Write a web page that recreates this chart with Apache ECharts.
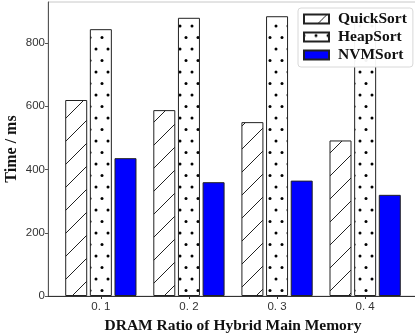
<!DOCTYPE html>
<html>
<head>
<meta charset="utf-8">
<style>
  html, body { margin: 0; padding: 0; background: #fff; }
  #chart { width: 415px; height: 336px; }
</style>
<script src="https://cdn.jsdelivr.net/npm/echarts@6/dist/echarts.min.js"></script>
</head>
<body>
<div id="chart"></div>
<script>
// Sorting time per DRAM ratio (ms)
const categories = ['0. 1', '0. 2', '0. 3', '0. 4'];
const seriesNames = ['QuickSort', 'HeapSort', 'NVMSort'];
const quickSort = [620, 588, 550, 492];
const heapSort = [844, 880, 885, 870];
const nvmSort = [436, 360, 365, 320];
const yTicks = [0, 200, 400, 600, 800];

// Diagonal hatch "/" tile
function hatchPattern() {
  const s = 23;
  const c = document.createElement('canvas');
  c.width = s; c.height = s;
  const g = c.getContext('2d');
  g.fillStyle = '#fff';
  g.fillRect(0, 0, s, s);
  g.strokeStyle = '#222';
  g.lineWidth = 1;
  for (const off of [-s, 0, s]) {
    g.beginPath();
    g.moveTo(off - 1, s + 1);
    g.lineTo(off + s + 1, -1);
    g.stroke();
  }
  return c;
}

// Staggered dot tile
function dotPattern() {
  const w = 12, h = 23;
  const c = document.createElement('canvas');
  c.width = w; c.height = h;
  const g = c.getContext('2d');
  g.fillStyle = '#fff';
  g.fillRect(0, 0, w, h);
  g.fillStyle = '#000';
  const dots = [[0, 3], [12, 3], [6, 14.5]];
  for (const [x, y] of dots) {
    g.beginPath();
    g.arc(x, y, 1.5, 0, Math.PI * 2);
    g.fill();
  }
  return c;
}

const serif = 'Liberation Serif, Times New Roman, serif';
const sans = 'Liberation Sans, Arial, sans-serif';

const fills = [
  { image: hatchPattern(), repeat: 'repeat' },
  { image: dotPattern(), repeat: 'repeat' },
  '#0000ff'
];
const values = [quickSort, heapSort, nvmSort];

const chart = echarts.init(document.getElementById('chart'), null, { renderer: 'canvas' });

chart.setOption({
  animation: false,
  grid: {
    left: 48, right: -3, top: 2, bottom: 40,
    containLabel: false,
    outerBoundsMode: 'none',
    show: true, borderColor: '#c8c8c8', borderWidth: 1, backgroundColor: 'transparent'
  },
  legend: {
    orient: 'vertical',
    left: 298, top: 8,
    data: seriesNames,
    itemWidth: 25, itemHeight: 9, itemGap: 2,
    padding: [3, 6, 4, 5],
    backgroundColor: 'rgba(255,255,255,0.95)',
    borderColor: '#d8d8d8', borderWidth: 1, borderRadius: 3,
    icon: 'rect',
    textStyle: {
      fontFamily: serif, fontWeight: 'bold', fontSize: 15.5, lineHeight: 16,
      color: '#111', padding: [0, 0, 0, 4]
    }
  },
  xAxis: {
    type: 'value',
    min: -0.6, max: 3.6,
    name: 'DRAM Ratio of Hybrid Main Memory',
    nameLocation: 'middle', nameGap: 17,
    nameTextStyle: { fontFamily: serif, fontWeight: 'bold', fontSize: 15.5, color: '#111' },
    axisLine: { show: true, onZero: false, lineStyle: { color: '#333', width: 1 } },
    axisTick: { show: true, length: 3, inside: false, customValues: [0, 1, 2, 3], lineStyle: { color: '#333' } },
    axisLabel: {
      customValues: [0, 1, 2, 3],
      formatter: v => categories[Math.round(v)] ?? '',
      fontFamily: sans, fontSize: 11.5, color: '#333', margin: 5
    },
    splitLine: { show: false }
  },
  yAxis: {
    type: 'value',
    min: 0, max: 930,
    name: 'Time / ms',
    nameLocation: 'middle', nameGap: 28, nameRotate: 90,
    nameMoveOverlap: false,
    nameTextStyle: { fontFamily: serif, fontWeight: 'bold', fontSize: 16, color: '#111' },
    axisLine: { show: true, onZero: false, lineStyle: { color: '#555', width: 1 } },
    axisTick: { show: true, length: 3, customValues: yTicks, lineStyle: { color: '#555' } },
    axisLabel: {
      customValues: yTicks,
      fontFamily: sans, fontSize: 11.5, color: '#333', margin: 3
    },
    splitLine: { show: false }
  },
  series: seriesNames.map((name, i) => ({
    name,
    type: 'bar',
    barWidth: 22,
    barGap: '12%',
    data: values[i].map((v, k) => [k, v]),
    itemStyle: { color: fills[i], borderColor: '#222', borderWidth: 1 },
    emphasis: { disabled: true }
  }))
});
</script>
</body>
</html>
